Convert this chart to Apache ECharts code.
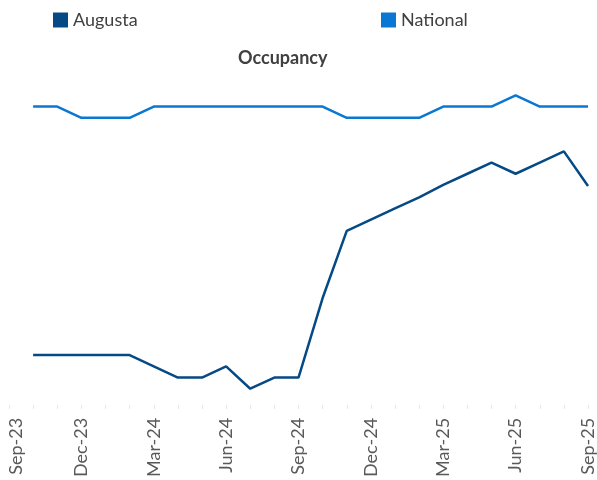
<!DOCTYPE html>
<html>
<head>
<meta charset="utf-8">
<script src="https://cdn.jsdelivr.net/npm/echarts@6/dist/echarts.min.js"></script>
<style>
  html, body { margin: 0; padding: 0; background: #fff; }
  #container { width: 597px; height: 480px; }
</style>
</head>
<body>
<div id="container"></div>
<script>
// months shown on the axis, Sep-23 has no value
const months = ['Sep-23', 'Oct-23', 'Nov-23', 'Dec-23', 'Jan-24', 'Feb-24', 'Mar-24', 'Apr-24', 'May-24',
  'Jun-24', 'Jul-24', 'Aug-24', 'Sep-24', 'Oct-24', 'Nov-24', 'Dec-24', 'Jan-25', 'Feb-25', 'Mar-25',
  'Apr-25', 'May-25', 'Jun-25', 'Jul-25', 'Aug-25', 'Sep-25'];

const augusta = [null, 82.4, 82.4, 82.4, 82.4, 82.4, 81.9, 81.4, 81.4, 81.9, 80.9, 81.4, 81.4,
  84.95, 87.95, 88.45, 88.95, 89.45, 90.0, 90.5, 91.0, 90.5, 91.0, 91.5, 89.95];

const national = [null, 93.5, 93.5, 93.0, 93.0, 93.0, 93.5, 93.5, 93.5, 93.5, 93.5, 93.5, 93.5,
  93.5, 93.0, 93.0, 93.0, 93.0, 93.5, 93.5, 93.5, 94.0, 93.5, 93.5, 93.5];

const font = 'Lato';

var dom = document.getElementById('container');
var chart = echarts.init(dom);

chart.setOption({
  animation: false,
  title: {
    text: 'Occupancy',
    left: 233,
    top: 44,
    textStyle: { fontFamily: font, fontSize: 18, fontWeight: 'bold', color: '#404040' }
  },
  legend: [
    {
      data: ['Augusta'],
      left: 48, top: 6,
      icon: 'rect', itemWidth: 15, itemHeight: 15, itemGap: 6,
      textStyle: { fontFamily: font, fontSize: 18, color: '#404040' }
    },
    {
      data: ['National'],
      left: 376, top: 6,
      icon: 'rect', itemWidth: 15, itemHeight: 15, itemGap: 6,
      textStyle: { fontFamily: font, fontSize: 18, color: '#404040' }
    }
  ],
  grid: { left: 9, right: 7, top: 73, bottom: 71, containLabel: false },
  xAxis: {
    type: 'category',
    data: months,
    boundaryGap: false,
    axisLine: { show: false },
    axisTick: { show: true, inside: true, length: 4, interval: 0, lineStyle: { color: '#e6e6e6' } },
    axisLabel: {
      interval: 2, rotate: 90, margin: 9,
      fontFamily: font, fontSize: 18, color: '#595959',
      // first label sits a little right of its tick, as in the original
      formatter: function (v, i) { return i === 0 ? '{first|' + v + '}' : v; },
      rich: { first: { fontFamily: font, fontSize: 18, color: '#595959', padding: [14, 0, 0, 0] } }
    }
  },
  yAxis: {
    type: 'value',
    min: 80, max: 95, interval: 5,
    axisLabel: { show: false },
    axisLine: { show: false },
    axisTick: { show: false },
    splitLine: { show: false }
  },
  series: [
    {
      name: 'Augusta', type: 'line', data: augusta,
      symbol: 'none', color: '#064a85',
      lineStyle: { width: 2.5, color: '#064a85' }
    },
    {
      name: 'National', type: 'line', data: national,
      symbol: 'none', color: '#0a78d2',
      lineStyle: { width: 2.5, color: '#0a78d2' }
    }
  ]
});
</script>
</body>
</html>
